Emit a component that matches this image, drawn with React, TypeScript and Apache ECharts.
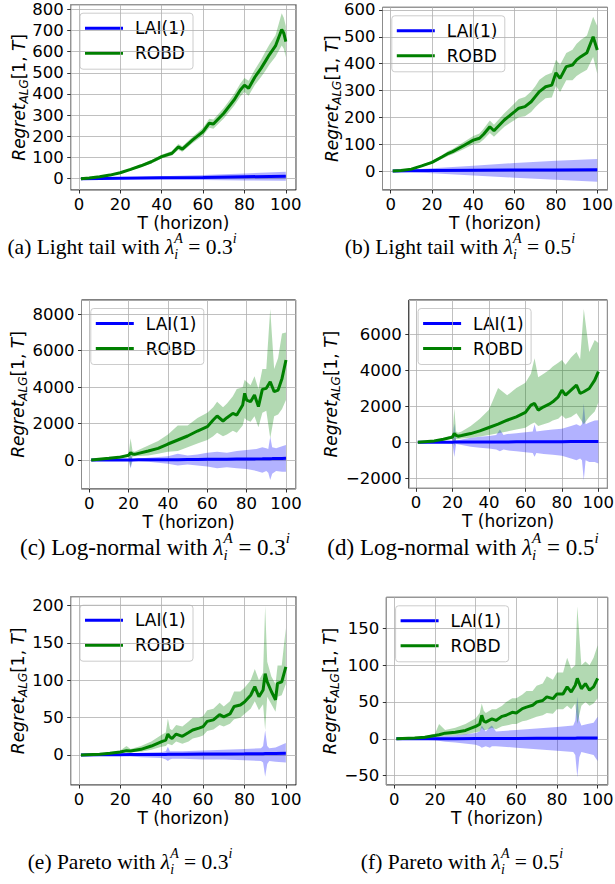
import React, { useEffect, useRef } from 'react';
import * as echarts from 'echarts';

// ---------------- (a) Light tail, lambda = 0.3^i ----------------
const T_A = [1, 5, 10, 15, 20, 25, 30, 35, 40, 45, 48, 50, 55, 60, 63, 65, 70, 75, 78, 80, 82, 85, 88, 90, 92, 95, 98, 99, 100];
const ROBD_A = [0, 3, 9, 17, 28, 44, 61, 80, 104, 120, 150, 140, 183, 222, 262, 258, 309, 372, 419, 442, 427, 479, 521, 553, 585, 627, 705, 687, 647];
const ROBD_A_HI = [0, 4, 11, 20, 32, 49, 67, 88, 113, 131, 164, 153, 198, 240, 283, 280, 334, 400, 450, 475, 462, 515, 562, 598, 632, 678, 781, 760, 720];
const ROBD_A_LO = [0, 2, 7, 14, 24, 39, 55, 72, 95, 109, 136, 127, 168, 204, 241, 236, 284, 344, 388, 409, 392, 443, 480, 508, 538, 576, 629, 614, 574];
const TB_A = [1, 20, 40, 60, 80, 100];
const LAI_A = [0, 2, 4, 6, 9, 12];
const LAI_A_HI = [0, 6, 12, 18, 25, 33];
const LAI_A_LO = [0, -2, -4, -6, -8, -10];

// ---------------- (b) Light tail, lambda = 0.5^i ----------------
const T_B = [1, 5, 10, 15, 20, 25, 28, 30, 35, 40, 43, 45, 48, 50, 55, 60, 62, 65, 68, 70, 72, 75, 78, 80, 82, 85, 88, 90, 92, 95, 98, 100];
const ROBD_B = [0, 2, 7, 19, 32, 53, 66, 72, 93, 115, 122, 137, 165, 150, 190, 221, 234, 240, 258, 277, 296, 314, 320, 366, 345, 389, 395, 414, 426, 441, 500, 451];
const ROBD_B_HI = [0, 3, 9, 22, 37, 60, 75, 82, 106, 130, 140, 157, 188, 172, 215, 252, 268, 276, 296, 316, 340, 357, 366, 415, 396, 440, 452, 474, 488, 505, 575, 540];
const ROBD_B_LO = [0, 1, 5, 16, 27, 46, 57, 62, 80, 100, 104, 117, 142, 128, 165, 190, 200, 204, 220, 238, 252, 271, 274, 317, 294, 338, 338, 354, 364, 377, 425, 362];
const TB_B = [1, 20, 40, 60, 80, 100];
const LAI_B = [0, 2, 3, 4, 4, 5];
const LAI_B_HI = [0, 10, 20, 30, 38, 45];
const LAI_B_LO = [0, -8, -17, -25, -33, -40];

// ---------------- (c) Log-normal, lambda = 0.3^i ----------------
const T_C = [1, 10, 15, 19, 20, 21, 22, 23, 25, 30, 35, 40, 45, 50, 55, 60, 63, 65, 68, 70, 73, 75, 78, 79, 80, 82, 84, 86, 88, 90, 92, 94, 96, 98, 100];
const ROBD_C = [0, 90, 146, 238, 260, 400, 330, 311, 366, 494, 640, 878, 1098, 1318, 1592, 1830, 2196, 2416, 2141, 2324, 2562, 2470, 3020, 3660, 3294, 3200, 3570, 2930, 3880, 3935, 4300, 3750, 3840, 4480, 5490];
const ROBD_C_HI = [0, 110, 180, 300, 340, 1190, 500, 450, 550, 800, 1050, 1400, 1900, 1900, 2300, 2600, 2900, 3200, 2900, 3100, 3500, 3900, 4000, 4400, 4300, 4100, 4600, 3900, 5000, 5000, 8290, 5000, 5600, 6950, 7000];
const ROBD_C_LO = [0, 70, 110, 180, 190, -400, 180, 200, 220, 250, 350, 450, 500, 700, 900, 1100, 1300, 1500, 1300, 1400, 1600, 1500, 1900, 2300, 2200, 2100, 2400, 1800, 2600, 2700, 1200, 2400, 2500, 2800, 3300];
const TB_C = [1, 10, 19, 20, 21, 22, 25, 30, 35, 40, 45, 50, 55, 60, 65, 70, 75, 80, 85, 88, 90, 91, 92, 93, 95, 98, 100];
const LAI_C = [0, 2, 5, 5, 6, 6, 8, 10, 13, 16, 20, 25, 30, 35, 40, 45, 50, 55, 62, 66, 70, 72, 75, 76, 80, 85, 90];
const LAI_C_HI = [0, 10, 30, 40, 300, 60, 80, 120, 160, 200, 350, 250, 300, 400, 450, 400, 500, 550, 600, 700, 650, 600, 1280, 700, 650, 750, 820];
const LAI_C_LO = [0, -5, -20, -30, -460, -50, -70, -100, -150, -200, -300, -250, -300, -350, -450, -400, -450, -500, -600, -700, -600, -700, -1100, -750, -600, -650, -640];

// ---------------- (d) Log-normal, lambda = 0.5^i ----------------
const T_D = [1, 10, 15, 19, 20, 21, 22, 23, 25, 30, 35, 40, 45, 50, 55, 60, 63, 65, 67, 70, 73, 75, 78, 80, 82, 85, 88, 90, 92, 95, 98, 100];
const ROBD_D = [0, 74, 167, 260, 290, 480, 380, 333, 370, 480, 630, 815, 1000, 1220, 1408, 1650, 2055, 2150, 1780, 1963, 2110, 2240, 2520, 2890, 2610, 2890, 3170, 2700, 2800, 2980, 3445, 3910];
const ROBD_D_HI = [0, 100, 220, 340, 380, 1870, 600, 520, 600, 900, 1300, 1800, 3000, 2600, 3000, 3300, 3800, 4650, 3600, 3800, 4000, 4200, 4400, 4555, 4300, 4700, 5000, 4600, 7390, 5000, 5670, 5500];
const ROBD_D_LO = [0, 50, 120, 190, 200, -200, 180, 170, 200, 250, 320, 400, 500, 600, 700, 800, 1000, 1100, 900, 1000, 1100, 1200, 1300, 1500, 1300, 1400, 1600, 1300, 1000, 1400, 1700, 2200];
const TB_D = [1, 10, 19, 20, 21, 22, 25, 30, 35, 40, 44, 46, 48, 50, 55, 60, 64, 65, 66, 70, 75, 80, 85, 88, 90, 91, 92, 93, 95, 98, 100];
const LAI_D = [0, 2, 4, 5, 6, 6, 7, 8, 10, 12, 14, 15, 16, 17, 20, 22, 25, 26, 26, 28, 30, 32, 35, 36, 38, 38, 40, 40, 42, 44, 45];
const LAI_D_HI = [0, 10, 50, 80, 1040, 100, 150, 250, 300, 350, 400, 700, 400, 450, 500, 550, 600, 1000, 600, 650, 700, 750, 900, 1000, 900, 1000, 2150, 1000, 1100, 1200, 1220];
const LAI_D_LO = [0, -10, -50, -80, -815, -100, -150, -250, -300, -350, -400, -500, -400, -450, -500, -550, -600, -800, -600, -650, -700, -750, -900, -1000, -900, -1000, -2110, -1000, -1100, -1100, -1185];

// ---------------- (e) Pareto, lambda = 0.3^i ----------------
const T_E = [1, 10, 15, 20, 23, 25, 30, 35, 40, 42, 43, 44, 45, 47, 50, 53, 55, 58, 60, 62, 65, 68, 70, 73, 75, 78, 80, 83, 85, 87, 89, 90, 91, 93, 95, 96, 98, 100];
const ROBD_E = [0, 0.9, 2.2, 4, 5.8, 5.4, 7.6, 12, 18, 20, 28, 24, 22, 28, 25, 30, 33.5, 36, 38, 45, 47, 54, 51, 55, 65, 67, 71, 80, 91.5, 78, 87, 109, 98, 85, 74, 96, 98, 118];
const ROBD_E_HI = [0, 1.5, 3.5, 6, 12, 8, 12, 18, 27, 30, 49, 35, 33, 40, 38, 45, 50, 50, 52, 60, 62, 70, 65, 72, 85, 85, 90, 100, 115, 100, 110, 200, 125, 105, 95, 120, 120, 170];
const ROBD_E_LO = [0, 0.5, 1.2, 2.5, 3, 3.5, 4.5, 7, 11, 12, 15, 14, 13, 18, 15, 18, 22, 24, 26, 32, 34, 40, 38, 42, 48, 50, 55, 62, 72, 60, 68, 33, 78, 68, 58, 78, 80, 95];
const TB_E = [1, 10, 20, 25, 30, 40, 42, 43, 44, 45, 50, 60, 70, 80, 88, 89, 90, 91, 92, 95, 100];
const LAI_E = [0, 0.2, 0.4, 0.5, 0.6, 0.8, 0.8, 1, 0.9, 0.9, 1, 1.2, 1.4, 1.6, 1.8, 1.8, 2, 2, 2, 2, 2.2];
const LAI_E_HI = [0, 0.5, 1.5, 2, 3, 4, 5, 11, 5, 5, 5, 6, 7, 8, 9, 12, 33, 12, 9, 10, 16];
const LAI_E_LO = [0, -0.3, -1, -2, -3, -4, -6, -8, -6, -5, -5, -6, -6, -7, -8, -10, -29, -12, -8, -9, -10];

// ---------------- (f) Pareto, lambda = 0.5^i ----------------
const T_F = [1, 10, 15, 20, 22, 25, 30, 35, 40, 42, 43, 44, 45, 48, 50, 53, 55, 58, 60, 63, 65, 68, 70, 73, 75, 78, 80, 83, 85, 87, 89, 90, 92, 94, 96, 98, 100];
const ROBD_F = [0, 1, 2.3, 4.5, 5.5, 7.7, 9, 11.4, 16.8, 20, 32, 24, 22.7, 27, 25, 30.5, 32, 36, 35, 41, 43, 45.5, 50, 52, 57, 54.5, 61, 61, 70.5, 63.6, 72.7, 82, 68, 75, 66, 70.5, 82];
const ROBD_F_HI = [0, 1.5, 3.5, 7, 20, 12, 15, 20, 28, 35, 48, 38, 35, 40, 40, 45, 50, 55, 55, 60, 65, 65, 72, 75, 85, 80, 90, 90, 110, 95, 100, 180, 100, 105, 100, 110, 127];
const ROBD_F_LO = [0, 0.5, 1.2, 2.5, 3, 4, 5, 6, 9, 10, 15, 12, 12, 15, 13, 17, 18, 20, 20, 24, 25, 28, 30, 32, 35, 34, 40, 40, 45, 40, 48, 20, 45, 50, 45, 48, 55];
const TB_F = [1, 10, 20, 25, 30, 40, 42, 43, 45, 47, 48, 50, 60, 70, 80, 88, 89, 90, 91, 92, 95, 98, 100];
const LAI_F = [0, 0.1, 0.2, 0.3, 0.3, 0.4, 0.4, 0.5, 0.5, 0.5, 0.5, 0.5, 0.6, 0.7, 0.8, 0.9, 0.9, 1, 1, 1, 1, 1, 1.1];
const LAI_F_HI = [0, 1, 2, 4, 5, 8, 10, 18, 10, 16, 18, 10, 12, 14, 16, 18, 25, 57, 25, 18, 20, 22, 30];
const LAI_F_LO = [0, -1, -2, -4, -5, -8, -10, -12, -10, -12, -10, -10, -12, -14, -16, -18, -22, -52, -25, -18, -20, -22, -30];

// ---------------- labels ----------------
const SERIES_NAMES = ['LAI(1)', 'ROBD'];
const X_NAME = 'T (horizon)';
const CAPTION_TEXTS = ['(a) Light tail with ', '(b) Light tail with ', '(c) Log-normal with ', '(d) Log-normal with ', '(e) Pareto with ', '(f) Pareto with '];
const CAPTION_BASES = ['0.3', '0.5', '0.3', '0.5', '0.3', '0.5'];
const X_RANGE = [-3.95, 104.95];
const X_STEP = 20;
const Y_MIN = [-53.4, -70.8, -1592, -2554, -40.2, -62.6];
const Y_MAX = [821.7, 610, 8785, 7885, 212, 192];
const Y_STEP = [100, 100, 2000, 2000, 50, 50];

// ---------------- layout ----------------
const GRIDS = [
  { left: 70.7, top: 4.7, width: 225.4, height: 185.3 },
  { left: 382.5, top: 7.3, width: 225.0, height: 182.7 },
  { left: 81.5, top: 300, width: 214.2, height: 189 },
  { left: 408.8, top: 300, width: 198.6, height: 188.3 },
  { left: 70.7, top: 596.7, width: 225.4, height: 188.3 },
  { left: 386.3, top: 597.3, width: 221.4, height: 187.7 },
];
const YLABEL_X = [19, 332, 18, 331, 18, 330];
const CAPTION_SIZE = [21.5, 21.5, 23, 23, 21.5, 21.5];
const CAPTION_POS = [
  [122, 247], [460, 247], [155, 547], [463, 547], [130, 862], [462, 862],
];

const PANEL_DATA = [
  { T: T_A, g: ROBD_A, gHi: ROBD_A_HI, gLo: ROBD_A_LO, TB: TB_A, b: LAI_A, bHi: LAI_A_HI, bLo: LAI_A_LO },
  { T: T_B, g: ROBD_B, gHi: ROBD_B_HI, gLo: ROBD_B_LO, TB: TB_B, b: LAI_B, bHi: LAI_B_HI, bLo: LAI_B_LO },
  { T: T_C, g: ROBD_C, gHi: ROBD_C_HI, gLo: ROBD_C_LO, TB: TB_C, b: LAI_C, bHi: LAI_C_HI, bLo: LAI_C_LO },
  { T: T_D, g: ROBD_D, gHi: ROBD_D_HI, gLo: ROBD_D_LO, TB: TB_D, b: LAI_D, bHi: LAI_D_HI, bLo: LAI_D_LO },
  { T: T_E, g: ROBD_E, gHi: ROBD_E_HI, gLo: ROBD_E_LO, TB: TB_E, b: LAI_E, bHi: LAI_E_HI, bLo: LAI_E_LO },
  { T: T_F, g: ROBD_F, gHi: ROBD_F_HI, gLo: ROBD_F_LO, TB: TB_F, b: LAI_F, bHi: LAI_F_HI, bLo: LAI_F_LO },
];

const SANS = '"DejaVu Sans", sans-serif';
const SERIF = '"Liberation Serif", "DejaVu Serif", serif';
const BLUE = '#0000ff';
const GREEN = '#008000';
const BLUE_FILL = 'rgba(0,0,255,0.3)';
const GREEN_FILL = 'rgba(0,128,0,0.3)';
const TICK_FONT = 16.5;
const LABEL_FONT = 17;

let measureCtx: CanvasRenderingContext2D | null = null;
function measure(text: string, font: string): number {
  if (!measureCtx) measureCtx = document.createElement('canvas').getContext('2d');
  if (!measureCtx) return text.length * 8;
  measureCtx.font = font;
  return measureCtx.measureText(text).width;
}

type Piece = { text: string; size: number; italic?: boolean; dy?: number };
type Run = Piece | { stack: Piece[] };

function layoutRuns(runs: Run[], family: string) {
  const children: any[] = [];
  let x = 0;
  for (const r of runs) {
    const parts: Piece[] = (r as any).stack ? (r as any).stack : [r as Piece];
    let adv = 0;
    for (const p of parts) {
      const font = `${p.italic ? 'italic ' : ''}${p.size}px ${family}`;
      const w = measure(p.text, font);
      adv = Math.max(adv, w);
      children.push({
        type: 'text',
        x,
        y: p.dy || 0,
        silent: true,
        style: {
          text: p.text,
          fontFamily: family,
          fontSize: p.size,
          fontStyle: p.italic ? 'italic' : 'normal',
          fill: '#000',
          align: 'left',
          verticalAlign: 'middle',
        },
      });
    }
    x += adv;
  }
  return { children, width: x };
}

function fmt(v: number) {
  return v < 0 ? '\u2212' + Math.abs(v) : String(v);
}

function bandSeries(idx: number, T: number[], lo: number[], hi: number[], fill: string) {
  return {
    type: 'custom',
    xAxisIndex: idx,
    yAxisIndex: idx,
    silent: true,
    clip: true,
    data: [[T[0], lo[0]]],
    renderItem: (_params: any, api: any) => {
      const pts: number[][] = [];
      for (let i = 0; i < T.length; i++) pts.push(api.coord([T[i], hi[i]]));
      for (let i = T.length - 1; i >= 0; i--) pts.push(api.coord([T[i], lo[i]]));
      return { type: 'polygon', shape: { points: pts }, style: { fill, stroke: 'none' } };
    },
  };
}

function lineSeries(idx: number, name: string, T: number[], v: number[], color: string) {
  return {
    type: 'line',
    name,
    xAxisIndex: idx,
    yAxisIndex: idx,
    data: T.map((t, i) => [t, v[i]]),
    showSymbol: false,
    symbol: 'none',
    silent: true,
    lineStyle: { color, width: 3 },
    itemStyle: { color },
    z: 3,
  };
}

export default function App() {
  const ref = useRef<HTMLDivElement>(null);
  useEffect(() => {
    if (!ref.current) return;
    const chart = echarts.init(ref.current, undefined, { renderer: 'svg' });

    const grid: any[] = [];
    const xAxis: any[] = [];
    const yAxis: any[] = [];
    const series: any[] = [];
    const graphic: any[] = [];

    GRIDS.forEach((g, i) => {
      grid.push({
        left: g.left, top: g.top, width: g.width, height: g.height,
        show: true, borderColor: '#000', borderWidth: 1, backgroundColor: 'transparent',
        containLabel: false, outerBoundsMode: 'none',
      });
      xAxis.push({
        type: 'value', gridIndex: i, min: X_RANGE[0], max: X_RANGE[1],
        minInterval: X_STEP, maxInterval: X_STEP,
        name: X_NAME, nameLocation: 'middle', nameGap: 24,
        nameTextStyle: { fontFamily: SANS, fontSize: LABEL_FONT, color: '#000' },
        axisLine: { show: false, onZero: false },
        axisTick: { show: true, length: 3.5, lineStyle: { color: '#000', width: 0.8 } },
        axisLabel: { show: true, margin: 5.5, fontFamily: SANS, fontSize: TICK_FONT, color: '#000', showMinLabel: false, showMaxLabel: false, formatter: fmt },
        splitLine: { show: true, lineStyle: { color: '#b0b0b0', width: 0.8 } },
      });
      yAxis.push({
        type: 'value', gridIndex: i, min: Y_MIN[i], max: Y_MAX[i],
        minInterval: Y_STEP[i], maxInterval: Y_STEP[i],
        axisLine: { show: false, onZero: false },
        axisTick: { show: true, length: 3.5, lineStyle: { color: '#000', width: 0.8 } },
        axisLabel: { show: true, margin: 7, fontFamily: SANS, fontSize: TICK_FONT, color: '#000', showMinLabel: false, showMaxLabel: false, formatter: fmt },
        splitLine: { show: true, lineStyle: { color: '#b0b0b0', width: 0.8 } },
      });

      const d = PANEL_DATA[i];
      series.push(bandSeries(i, d.TB, d.bLo, d.bHi, BLUE_FILL));
      series.push(bandSeries(i, d.T, d.gLo, d.gHi, GREEN_FILL));
      series.push(lineSeries(i, SERIES_NAMES[0], d.TB, d.b, BLUE));
      series.push(lineSeries(i, SERIES_NAMES[1], d.T, d.g, GREEN));

      // legend box
      const lx = g.left + 9.3;
      const ly = g.top + 8.5;
      graphic.push({
        type: 'group', z: 100, silent: true,
        children: [
          { type: 'rect', shape: { x: lx, y: ly, width: 113, height: 56, r: 3 }, style: { fill: 'rgba(255,255,255,0.8)', stroke: '#cccccc', lineWidth: 1 } },
          { type: 'line', shape: { x1: lx + 5, y1: ly + 15, x2: lx + 43, y2: ly + 15 }, style: { stroke: BLUE, lineWidth: 3 } },
          { type: 'text', x: lx + 55, y: ly + 15, style: { text: SERIES_NAMES[0], fontFamily: SANS, fontSize: LABEL_FONT, fill: '#000', align: 'left', verticalAlign: 'middle' } },
          { type: 'line', shape: { x1: lx + 5, y1: ly + 40, x2: lx + 43, y2: ly + 40 }, style: { stroke: GREEN, lineWidth: 3 } },
          { type: 'text', x: lx + 55, y: ly + 40, style: { text: SERIES_NAMES[1], fontFamily: SANS, fontSize: LABEL_FONT, fill: '#000', align: 'left', verticalAlign: 'middle' } },
        ],
      });

      // y-axis label  Regret_ALG[1, T]
      const yl = layoutRuns([
        { text: 'Regret', size: LABEL_FONT, italic: true },
        { text: 'ALG', size: 12, italic: true, dy: 5 },
        { text: '[1, ', size: LABEL_FONT },
        { text: 'T', size: LABEL_FONT, italic: true },
        { text: ']', size: LABEL_FONT },
      ], SANS);
      yl.children.forEach((c) => { c.x -= yl.width / 2; });
      graphic.push({
        type: 'group', x: YLABEL_X[i], y: g.top + g.height / 2, rotation: Math.PI / 2, silent: true,
        children: yl.children,
      });

      // caption
      const cs = CAPTION_SIZE[i];
      const ss = Math.round(cs * 0.66);
      const cap = layoutRuns([
        { text: CAPTION_TEXTS[i], size: cs },
        { text: '\u03bb', size: cs, italic: true },
        { stack: [{ text: 'A', size: ss, italic: true, dy: -cs * 0.38 }, { text: 'i', size: ss, italic: true, dy: cs * 0.33 }] },
        { text: ' = ' + CAPTION_BASES[i], size: cs },
        { text: 'i', size: ss, italic: true, dy: -cs * 0.38 },
      ], SERIF);
      graphic.push({
        type: 'group', x: CAPTION_POS[i][0] - cap.width / 2, y: CAPTION_POS[i][1], silent: true,
        children: cap.children,
      });
    });

    chart.setOption({
      animation: false,
      backgroundColor: '#ffffff',
      grid, xAxis, yAxis, series, graphic,
    });
    return () => chart.dispose();
  }, []);

  return <div ref={ref} style={{ position: 'absolute', left: 0, top: 0, width: 615, height: 884 }} />;
}
